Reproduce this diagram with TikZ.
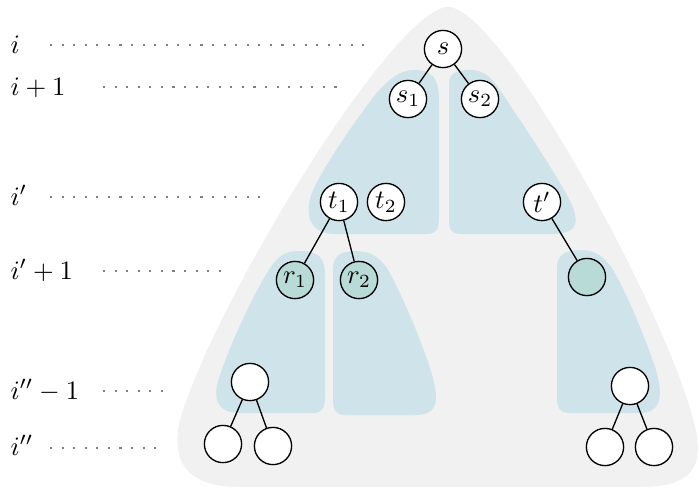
\documentclass[tikz,border=0pt]{standalone}
\definecolor{bggray}{HTML}{F1F1F1}
\definecolor{regblue}{HTML}{CFE4EA}
\definecolor{tealfill}{HTML}{B8DBD7}
\tikzset{
  vtx/.style={circle, draw=black, line width=0.5pt, fill=white, minimum size=14pt, inner sep=0pt},
  tvtx/.style={vtx, fill=tealfill},
  region/.style={fill=regblue},
  guide/.style={black!50, line width=0.8pt, dash pattern=on 0.8pt off 3.55pt},
  lbl/.style={anchor=base west, inner sep=0pt},
  edge/.style={line width=0.5pt}
}
\begin{document}
\begin{tikzpicture}[x=0.376pt,y=-0.376pt]
\useasboundingbox (0,0) rectangle (699,490);
% background bell
\fill[bggray] (448,7) .. controls (500,7) and (660,300) .. (692,415)
  .. controls (705,460) and (700,487) .. (640,487) -- (240,487)
  .. controls (180,487) and (172,455) .. (180,420)
  .. controls (215,300) and (395,7) .. (448,7) -- cycle;
% regions
\fill[region] (439,100) .. controls (439,78) and (432,70) .. (415,70)
  .. controls (400,70) and (390,78) .. (375,95)
  .. controls (350,128) and (325,165) .. (313,190)
  .. controls (305,210) and (306,234) .. (335,234)
  -- (425,234) .. controls (436,234) and (439,230) .. (439,218) -- cycle;
\fill[region] (449,85) .. controls (449,74) and (455,70) .. (470,70)
  .. controls (482,70) and (490,75) .. (500,90)
  .. controls (530,135) and (560,180) .. (572,205)
  .. controls (582,230) and (570,234) .. (550,234)
  -- (462,234) .. controls (452,234) and (449,230) .. (449,220) -- cycle;
\fill[region] (325,275) .. controls (325,257) and (318,251) .. (300,251)
  .. controls (285,251) and (278,256) .. (270,268)
  .. controls (250,300) and (228,350) .. (219,378)
  .. controls (212,400) and (218,413) .. (240,413)
  -- (312,413) .. controls (322,413) and (325,408) .. (325,398) -- cycle;
\fill[region] (333,270) .. controls (333,256) and (340,251) .. (355,251)
  .. controls (370,251) and (378,256) .. (387,268)
  .. controls (405,300) and (425,350) .. (433,378)
  .. controls (440,405) and (435,415) .. (415,415)
  -- (345,415) .. controls (336,415) and (333,410) .. (333,400) -- cycle;
\fill[region] (557,268) .. controls (557,255) and (565,250) .. (580,250)
  .. controls (595,250) and (603,256) .. (612,268)
  .. controls (628,295) and (648,345) .. (656,370)
  .. controls (664,398) and (660,413) .. (640,413)
  -- (570,413) .. controls (560,413) and (557,408) .. (557,398) -- cycle;
% guides
\draw[guide] (50,45) -- (372,45);
\draw[guide] (103,87) -- (342,87);
\draw[guide] (50,197) -- (264,197);
\draw[guide] (103,271) -- (224,271);
\draw[guide] (103,391) -- (165,391);
\draw[guide] (50,448) -- (160,448);
% labels
\node[lbl] (li) at (10,53) {$i$};
\node[lbl] (li1) at (10,95) {$i+1$};
\node[lbl] (lip) at (10,205) {$i'$};
\node[lbl] (lip1) at (10,279) {$i'+1$};
\node[lbl] (lipp1) at (10,399) {$i''-1$};
\node[lbl] (lipp) at (10,455) {$i''$};
% nodes
\node[vtx] (s) at (443,49) {$s$};
\node[vtx] (s1) at (408,99) {$s_1$};
\node[vtx] (s2) at (480,99) {$s_2$};
\node[vtx] (t1) at (339,202) {$t_1$};
\node[vtx] (t2) at (386,202) {$t_2$};
\node[vtx] (tp) at (542,202) {$t'$};
\node[tvtx] (r1) at (295,280) {$r_1$};
\node[tvtx] (r2) at (359,280) {$r_2$};
\node[tvtx] (u) at (587,277) {};
\node[vtx] (a) at (250,382) {};
\node[vtx] (a1) at (223,444) {};
\node[vtx] (a2) at (273,446) {};
\node[vtx] (b) at (630,386) {};
\node[vtx] (b1) at (605,447) {};
\node[vtx] (b2) at (654,447) {};
% edges
\draw[edge] (s)--(s1) (s)--(s2) (t1)--(r1) (t1)--(r2) (tp)--(u)
  (a)--(a1) (a)--(a2) (b)--(b1) (b)--(b2);
\end{tikzpicture}
\end{document}
